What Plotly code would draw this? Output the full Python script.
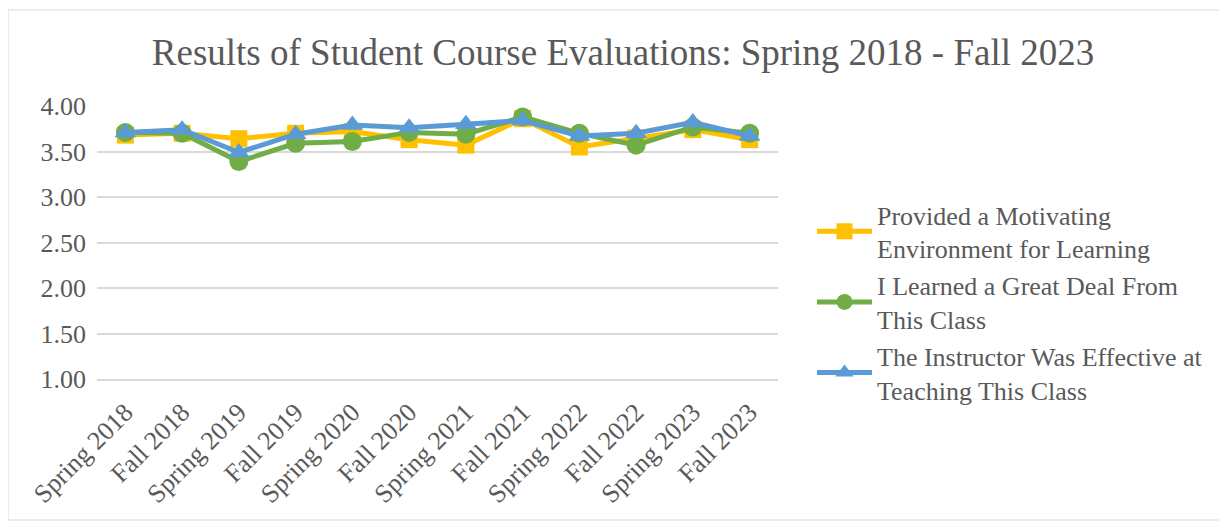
import plotly.graph_objects as go

categories = ["Spring 2018", "Fall 2018", "Spring 2019", "Fall 2019", "Spring 2020", "Fall 2020",
              "Spring 2021", "Fall 2021", "Spring 2022", "Fall 2022", "Spring 2023", "Fall 2023"]
motivating = [3.68, 3.70, 3.64, 3.70, 3.72, 3.63, 3.57, 3.86, 3.55, 3.65, 3.74, 3.63]
learned = [3.71, 3.70, 3.39, 3.59, 3.61, 3.71, 3.69, 3.88, 3.70, 3.57, 3.77, 3.70]
effective = [3.71, 3.74, 3.49, 3.69, 3.79, 3.76, 3.80, 3.84, 3.67, 3.70, 3.82, 3.67]
series_names = ["Provided a Motivating<br>Environment for Learning",
                "I Learned a Great Deal From<br>This Class",
                "The Instructor Was Effective at<br>Teaching This Class"]
y_ticks = [1.0, 1.5, 2.0, 2.5, 3.0, 3.5, 4.0]

FONT = "Liberation Serif, Times New Roman, serif"
TXT = "#595959"
GRID = "#D9D9D9"

W, H = 1219, 513
L, R, T, B = 89, 449, 98, 142
PW, PH = W - L - R, H - T - B

fig = go.Figure()
styles = [("#FFC000", "square", 17), ("#70AD47", "circle", 19), ("#5B9BD5", "triangle-up", 19)]
for name, vals, (col, sym, sz) in zip(series_names, [motivating, learned, effective], styles):
    fig.add_trace(go.Scatter(
        x=categories, y=vals, name=name, mode="lines+markers",
        line=dict(color=col, width=5),
        marker=dict(color=col, symbol=sym, size=sz),
    ))

fig.update_layout(
    width=W, height=H,
    paper_bgcolor="white", plot_bgcolor="white",
    margin=dict(l=L, r=R, t=T, b=B),
    font=dict(family=FONT, color=TXT, size=26),
    title=dict(text="Results of Student Course Evaluations: Spring 2018 - Fall 2023",
               x=615 / W, xanchor="center", y=1 - 44 / H, yanchor="middle",
               font=dict(family=FONT, size=37, color=TXT)),
    showlegend=True,
    legend=dict(x=(804 - L) / PW, xanchor="left", y=1 - (294 - T) / PH, yanchor="middle",
                font=dict(family=FONT, size=26, color=TXT),
                tracegroupgap=12, itemwidth=55, bgcolor="rgba(0,0,0,0)"),
    shapes=[dict(type="rect", xref="paper", yref="paper",
                 x0=-L / PW, x1=(W - 1 - L) / PW,
                 y0=-(B - 1) / PH, y1=(T - 2) / PH + 1,
                 line=dict(color=GRID, width=1), fillcolor="rgba(0,0,0,0)", layer="below")],
)
fig.update_xaxes(
    type="category", range=[-0.5, 11.5], tickangle=-45,
    showgrid=False, showline=True, linecolor=GRID, linewidth=1.5,
    ticks="", ticklabelstandoff=6, tickfont=dict(family=FONT, size=26, color=TXT),
)
fig.update_yaxes(
    range=[1.0, 4.0], tickvals=y_ticks, tickformat=".2f",
    showgrid=True, gridcolor=GRID, gridwidth=1.5, zeroline=False,
    showline=False, ticks="", ticklabelstandoff=10,
    tickfont=dict(family=FONT, size=26, color=TXT),
)

fig.write_html("out.html")
